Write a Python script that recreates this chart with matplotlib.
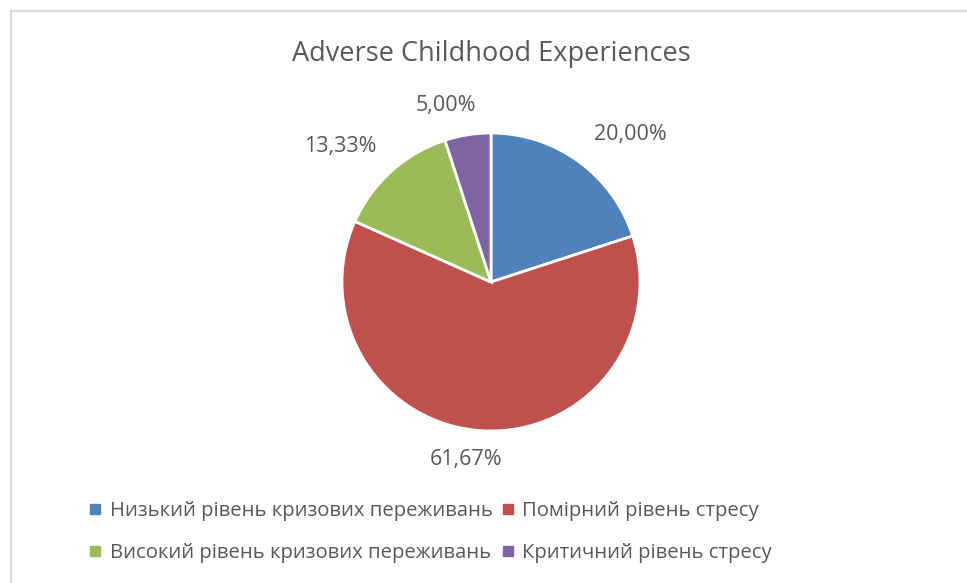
import numpy as np
import matplotlib.pyplot as plt
from matplotlib.lines import Line2D
from matplotlib.patches import Rectangle

plt.rcParams['font.family'] = ['Open Sans', 'DejaVu Sans']

title = 'Adverse Childhood Experiences'
categories = ['Низький рівень кризових переживань', 'Помірний рівень стресу',
              'Високий рівень кризових переживань', 'Критичний рівень стресу']
values = [20.00, 61.67, 13.33, 5.00]
colors = ['#4F81BD', '#C0504D', '#9BBB59', '#8064A2']
text_color = '#595959'

# label placement (Excel "best fit" look): angle shift from the wedge middle, radius
label_shift = [-7.4, -5.0, 6.2, 5.3]
label_dist = [1.36, 1.20, 1.36, 1.22]

W, H = 967, 583
fig = plt.figure(figsize=(W / 100, H / 100), dpi=100)

# chart frame (light grey, runs off the right/bottom edges)
fig.patches.append(Rectangle((11 / W, -0.1), 1.0, (H - 10.5) / H + 0.1,
                             transform=fig.transFigure, fill=False,
                             edgecolor='#d9d9d9', linewidth=1.6))

cx, cy, r = 491, H - 282, 149
half = 1.5 * r
ax = fig.add_axes([(cx - half) / W, (cy - half) / H, 2 * half / W, 2 * half / H])

wedges, texts = ax.pie(
    values, colors=colors, startangle=90, counterclock=False,
    wedgeprops=dict(edgecolor='white', linewidth=2))
for w, v, s, d in zip(wedges, values, label_shift, label_dist):
    a = np.deg2rad((w.theta1 + w.theta2) / 2 + s)
    ax.text(d * np.cos(a), d * np.sin(a), f'{v:.2f}%'.replace('.', ','),
            ha='center', va='center', color=text_color, fontsize=15.5)
ax.set_xlim(-1.5, 1.5)
ax.set_ylim(-1.5, 1.5)
ax.set_aspect('equal')
ax.axis('off')

fig.text(cx / W, 1 - 54 / H, title, ha='center', va='center',
         fontsize=19.5, color=text_color)

order = [0, 2, 1, 3]
handles = [Line2D([], [], linestyle='none', marker='s', markersize=7,
                  markerfacecolor=colors[i], markeredgecolor=colors[i]) for i in order]
fig.legend(handles, [categories[i] for i in order], ncol=2,
           loc='center left', bbox_to_anchor=(72 / W, 1 - 532 / H),
           frameon=False, fontsize=14.6, labelcolor=text_color,
           handlelength=0.5, handletextpad=0.45, columnspacing=0.5,
           labelspacing=1.1)

fig.savefig('out.png', dpi=100)
